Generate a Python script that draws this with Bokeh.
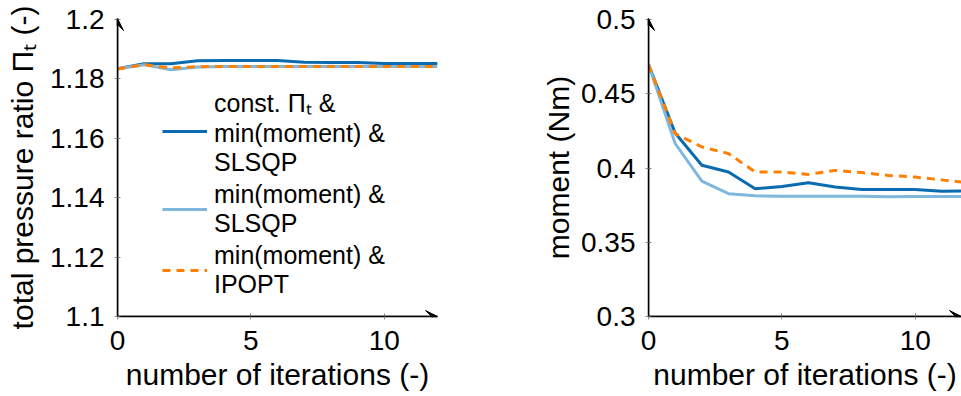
from bokeh.plotting import figure
from bokeh.models import Range1d, FixedTicker, Arrow, VeeHead, Legend, LegendItem, CustomJSTickFormatter
from bokeh.layouts import row
from bokeh.embed import file_html
from bokeh.resources import INLINE

# ---------------- data ----------------
iterations = [0, 1, 2, 3, 4, 5, 6, 7, 8, 9, 10, 11, 12]

pr_const_slsqp = [1.1834, 1.1851, 1.1851, 1.1861, 1.1862, 1.1862, 1.1862, 1.1856, 1.1855, 1.1855, 1.1852, 1.1852, 1.1852]
pr_slsqp       = [1.1834, 1.1848, 1.1831, 1.1840, 1.1842, 1.1842, 1.1842, 1.1842, 1.1842, 1.1842, 1.1842, 1.1842, 1.1842]
pr_ipopt       = [1.1833, 1.1848, 1.1837, 1.1841, 1.1842, 1.1842, 1.1842, 1.1842, 1.1842, 1.1842, 1.1842, 1.1842, 1.1842]

mom_const_slsqp = [0.4696, 0.4236, 0.4018, 0.3973, 0.3860, 0.3876, 0.3900, 0.3872, 0.3856, 0.3856, 0.3856, 0.3843, 0.3845]
mom_slsqp       = [0.4696, 0.4165, 0.3912, 0.3827, 0.3813, 0.3810, 0.3810, 0.3810, 0.3810, 0.3806, 0.3808, 0.3808, 0.3808]
mom_ipopt       = [0.4696, 0.4232, 0.4142, 0.4097, 0.3973, 0.3973, 0.3957, 0.3984, 0.3969, 0.3950, 0.3939, 0.3920, 0.3900]

x_ticks = [0, 5, 10]
pr_ticks = [1.1, 1.12, 1.14, 1.16, 1.18, 1.2]
mom_ticks = [0.3, 0.35, 0.4, 0.45, 0.5]

legend_labels = ["const. Π\u209c &\nmin(moment) &\nSLSQP",
                 "min(moment) &\nSLSQP",
                 "min(moment) &\nIPOPT"]

x_label = "number of iterations (-)"
pr_label = "total pressure ratio Π\u209c (-)"
mom_label = "moment (Nm)"

# ---------------- style ----------------
DARK = "#0a6bb0"
LIGHT = "#7fb8dc"
ORANGE = "#ff8000"
FONT = "Liberation Sans"
H = 396
B_TOP, B_BOT = 18, 80
PX_PER_IT = 26.67


def make_fig(width, b_left, b_right, yvals, ylabel, series, ylabel_standoff):
    frame_w = width - b_left - b_right
    x_end = frame_w / PX_PER_IT
    frame_h = H - B_TOP - B_BOT
    y0, y1 = yvals[0], yvals[-1]
    y_end = y0 + (y1 - y0) * frame_h / (frame_h - 1)
    p = figure(width=width, height=H, output_backend="svg", toolbar_location=None,
               x_range=Range1d(0, x_end), y_range=Range1d(y0, y_end),
               min_border_left=b_left, min_border_right=b_right,
               min_border_top=B_TOP, min_border_bottom=B_BOT)
    p.outline_line_color = None
    p.grid.grid_line_color = None
    p.background_fill_color = "white"
    p.border_fill_color = "white"

    for ax in (p.xaxis[0], p.yaxis[0]):
        ax.axis_line_color = "black"
        ax.axis_line_width = 1.5
        ax.major_tick_line_color = "#8a8a8a"
        ax.major_tick_line_width = 1
        ax.major_tick_in = 3
        ax.major_tick_out = 3
        ax.minor_tick_line_color = None
        ax.major_label_text_font = FONT
        ax.major_label_text_font_size = "28px"
        ax.major_label_text_color = "black"
        ax.axis_label_text_font = FONT
        ax.axis_label_text_font_size = "30px"
        ax.axis_label_text_font_style = "normal"
        ax.axis_label_text_color = "black"

    p.xaxis.ticker = FixedTicker(ticks=x_ticks)
    p.xaxis.axis_label = x_label
    p.xaxis.major_label_standoff = 11
    p.xaxis.axis_label_standoff = 5

    p.yaxis.ticker = FixedTicker(ticks=yvals)
    p.yaxis.formatter = CustomJSTickFormatter(code="return String(parseFloat(tick.toFixed(4)))")
    p.yaxis.axis_label = ylabel
    p.yaxis.major_label_standoff = 10
    p.yaxis.axis_label_standoff = ylabel_standoff

    renderers = []
    for ys, color, dash in series:
        r = p.line(iterations, ys, line_color=color, line_width=3, line_dash=dash)
        renderers.append(r)

    head = dict(size=12, fill_color="black", line_color="black", line_width=1)
    p.add_layout(Arrow(x_start=0, y_start=y0, x_end=0, y_end=y_end, line_width=1.5,
                       line_color="black", end=VeeHead(**head)))
    p.add_layout(Arrow(x_start=0, y_start=y0, x_end=x_end, y_end=y0, line_width=1.5,
                       line_color="black", end=VeeHead(**head)))
    return p, renderers


series_pr = [(pr_const_slsqp, DARK, "solid"), (pr_slsqp, LIGHT, "solid"), (pr_ipopt, ORANGE, "8 6")]
series_mom = [(mom_const_slsqp, DARK, "solid"), (mom_slsqp, LIGHT, "solid"), (mom_ipopt, ORANGE, "8 6")]

p1, rs = make_fig(470, 117, 33, pr_ticks, pr_label, series_pr, 8)
p2, _ = make_fig(491, 178, 0, mom_ticks, mom_label, series_mom, 3)

legend = Legend(items=[LegendItem(label=lab, renderers=[r]) for lab, r in zip(legend_labels, rs)],
                location=(45, 17), padding=0, margin=0, spacing=3,
                glyph_width=45, glyph_height=20, label_standoff=7,
                border_line_color=None, background_fill_alpha=0,
                label_text_font=FONT, label_text_font_size="25px",
                label_text_line_height=0.8, label_text_color="black")
p1.add_layout(legend)

layout = row(p1, p2)
open("out.html", "w").write(file_html(layout, INLINE))
